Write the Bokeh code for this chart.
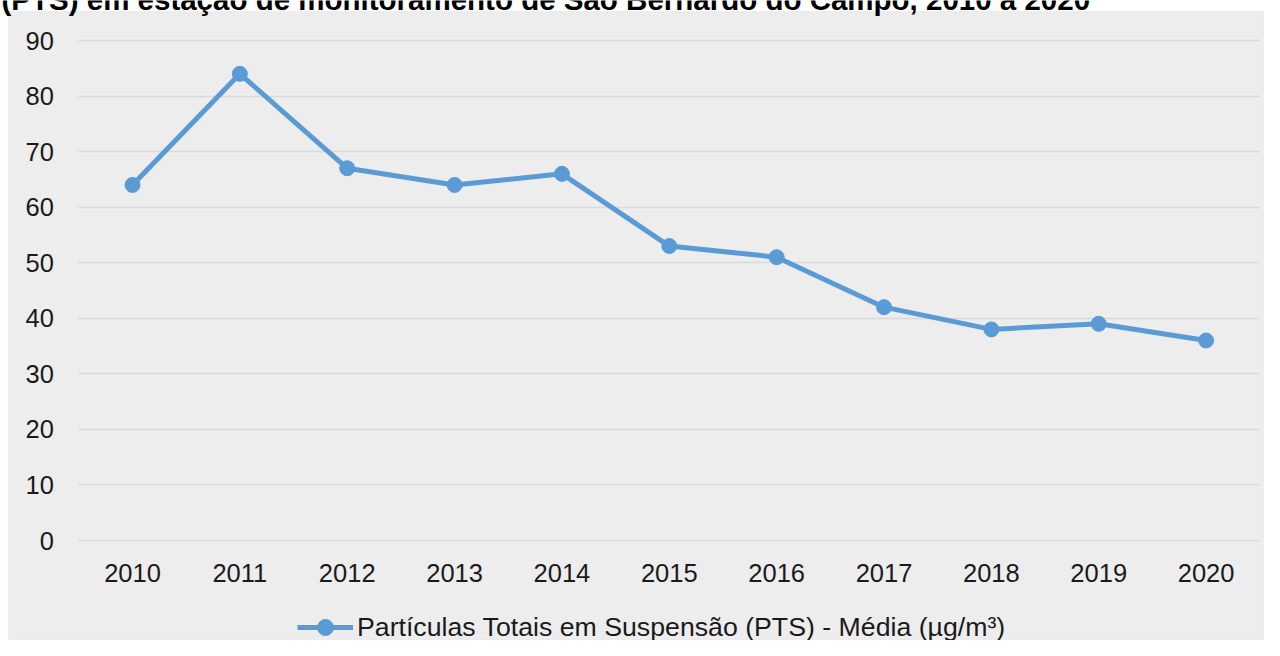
from bokeh.plotting import figure
from bokeh.models import (Legend, LegendItem, Range1d, FixedTicker, Label, BoxAnnotation)
from bokeh.embed import file_html
from bokeh.resources import INLINE

# ---- data ----
years = [2010, 2011, 2012, 2013, 2014, 2015, 2016, 2017, 2018, 2019, 2020]
pts_media = [64, 84, 67, 64, 66, 53, 51, 42, 38, 39, 36]
y_ticks = [0, 10, 20, 30, 40, 50, 60, 70, 80, 90]
title_text = "(PTS) em estação de monitoramento de São Bernardo do Campo, 2010 a 2020"
series_name = "Partículas Totais em Suspensão (PTS) - Média (µg/m³)"

# ---- style / layout ----
BLUE = "#5B9BD5"
BG = "#EDEDED"
GRID = "#D9D9D9"
TXT = "#1A1A1A"
FONT = "Liberation Sans"

# plotting area spans the whole canvas; axes are fixed inside it
X_START, X_END = 2008.7705, 2020.544
Y_START, Y_END = -18.0, 97.2
CAT_LO, CAT_HI = years[0] - 0.5, years[-1] + 0.5
BOX_LEFT = 2008.845   # left edge of grey chart box
BOX_TOP = 95.22       # top edge of grey chart box
TITLE_X = 2008.78
TITLE_BASE = 97.38    # position of the (clipped) title line

p = figure(x_range=Range1d(X_START, X_END), y_range=Range1d(Y_START, Y_END),
           width=1264, height=640, output_backend="svg", toolbar_location=None,
           min_border=0, min_border_top=0, min_border_left=0, min_border_right=0,
           min_border_bottom=0,
           background_fill_color="white", border_fill_color="white",
           outline_line_color=None)

# grey chart box (drawn beneath grid and data)
box = BoxAnnotation(left=BOX_LEFT, top=BOX_TOP, fill_color=BG, fill_alpha=1.0,
                    line_color=GRID, line_width=1.5, level="image")
p.add_layout(box)

r_line = p.line(years, pts_media, line_color=BLUE, line_width=5)
r_pts = p.scatter(years, pts_media, size=15, fill_color=BLUE, line_color=BLUE)

p.xgrid.grid_line_color = None
p.ygrid.grid_line_color = GRID
p.ygrid.grid_line_width = 1.5
p.ygrid.cross_bounds = (CAT_LO, CAT_HI)

p.xaxis.ticker = FixedTicker(ticks=years)
p.yaxis.ticker = FixedTicker(ticks=y_ticks)
p.xaxis.fixed_location = 0
p.yaxis.fixed_location = CAT_LO

for ax in (p.xaxis[0], p.yaxis[0]):
    ax.axis_line_color = None
    ax.major_tick_line_color = None
    ax.minor_tick_line_color = None
    ax.major_tick_out = 0
    ax.major_tick_in = 0
    ax.major_label_text_font = FONT
    ax.major_label_text_font_size = "25.5px"
    ax.major_label_text_color = TXT

p.yaxis.major_label_standoff = 25
p.xaxis.major_label_standoff = 23

title = Label(x=TITLE_X, y=TITLE_BASE, text=title_text, text_font=FONT,
              text_font_size="29.5px", text_font_style="bold", text_color="#000000",
              text_baseline="alphabetic", text_align="left")
p.add_layout(title)

legend = Legend(items=[LegendItem(label=series_name, renderers=[r_line, r_pts])],
                location=(297, -7), orientation="horizontal",
                label_text_font=FONT, label_text_font_size="26.7px", label_text_color=TXT,
                glyph_width=56, glyph_height=40, padding=0, margin=0, label_standoff=4,
                border_line_color=None, background_fill_alpha=0)
p.add_layout(legend)

open("out.html", "w").write(file_html(p, INLINE))
